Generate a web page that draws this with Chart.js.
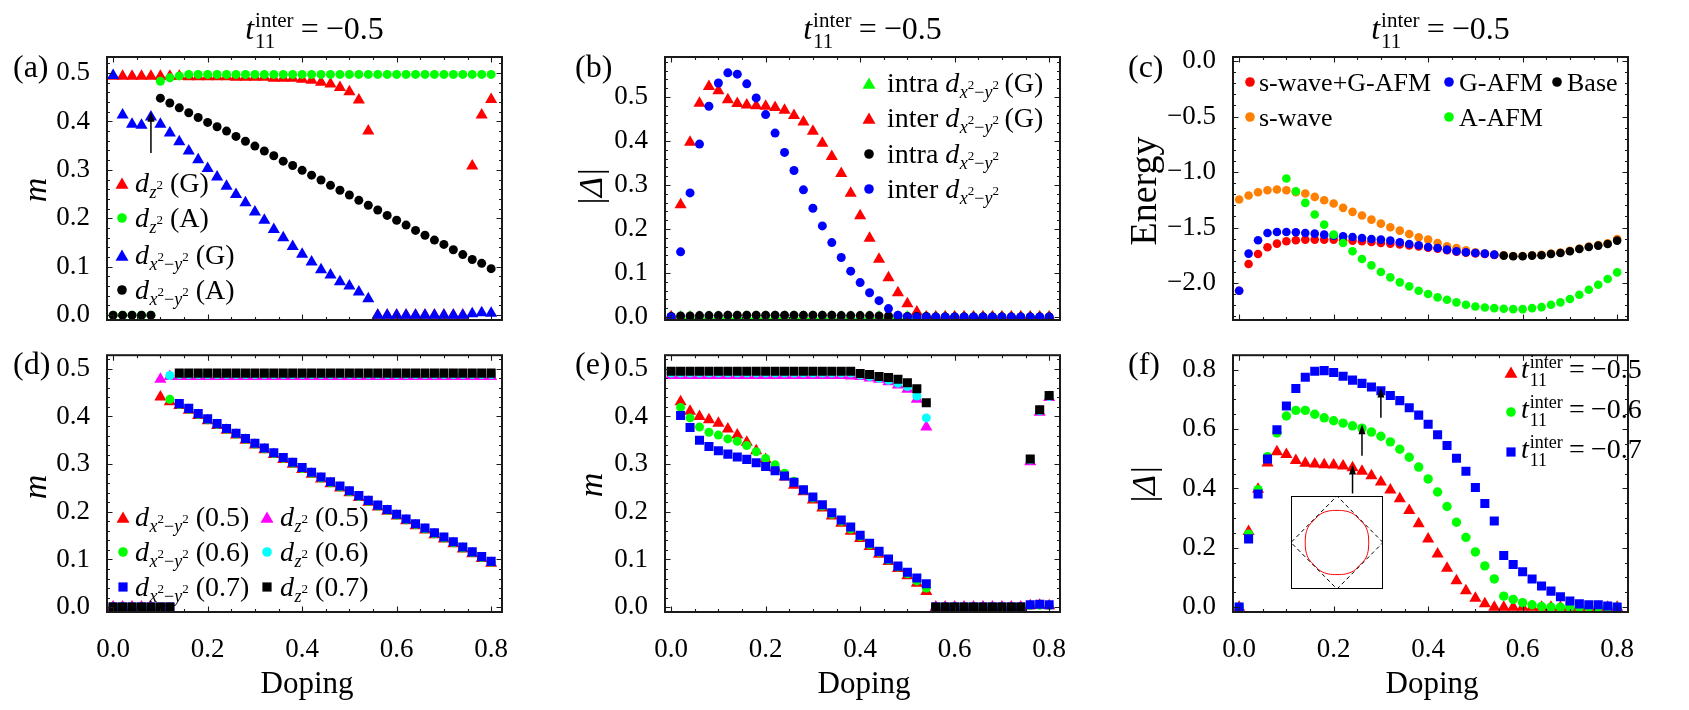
<!DOCTYPE html>
<html>
<head>
<meta charset="utf-8">
<script src="https://cdn.jsdelivr.net/npm/chart.js@4.4.1/dist/chart.umd.min.js"></script>
<style>
html, body { margin: 0; padding: 0; background: #fff; }
#wrap { position: relative; width: 1689px; height: 710px; overflow: hidden; background: #fff; }
canvas { position: absolute; }
</style>
</head>
<body>
<div id="wrap">
  <canvas id="pa"></canvas>
  <canvas id="pb"></canvas>
  <canvas id="pc"></canvas>
  <canvas id="pd"></canvas>
  <canvas id="pe"></canvas>
  <canvas id="pf"></canvas>
  <canvas id="inset"></canvas>
</div>
<script>
// doping axis, shared by every panel
const DOPING = [0, 0.02, 0.04, 0.06, 0.08, 0.1, 0.12, 0.14, 0.16, 0.18, 0.2, 0.22, 0.24, 0.26, 0.28, 0.3, 0.32, 0.34, 0.36, 0.38, 0.4,
  0.42, 0.44, 0.46, 0.48, 0.5, 0.52, 0.54, 0.56, 0.58, 0.6, 0.62, 0.64, 0.66, 0.68, 0.7, 0.72, 0.74, 0.76, 0.78, 0.8];

const X_TICKS = [0, 0.2, 0.4, 0.6, 0.8];
const M_TICKS = [0, 0.1, 0.2, 0.3, 0.4, 0.5];
const E_TICKS = [-2, -1.5, -1, -0.5, 0];
const F_TICKS = [0, 0.2, 0.4, 0.6, 0.8];

// (a) magnetic moments, t = -0.5
const A_DZ2_G = [0.493, 0.493, 0.493, 0.493, 0.493, 0.493, 0.493, 0.493, 0.492, 0.492, 0.492, 0.492, 0.492, 0.491, 0.491, 0.491, 0.491,
  0.489, 0.489, 0.489, 0.487, 0.485, 0.481, 0.477, 0.470, 0.461, 0.444, 0.380, 0, 0, 0, 0, 0, 0, 0, 0, 0, 0, 0.308, 0.413, 0.445];
const A_DZ2_A = [0, 0, 0, 0, 0, 0.483, 0.490, 0.494, 0.497, 0.497, 0.497, 0.497, 0.497, 0.497, 0.497, 0.497, 0.497, 0.497, 0.497, 0.497,
  0.497, 0.497, 0.497, 0.497, 0.497, 0.497, 0.497, 0.497, 0.497, 0.497, 0.497, 0.497, 0.497, 0.497, 0.497, 0.497, 0.497, 0.497, 0.497, 0.497, 0.497];
const A_DX2_G = [0.495, 0.413, 0.394, 0.392, 0.409, 0.394, 0.376, 0.358, 0.339, 0.321, 0.303, 0.285, 0.266, 0.249, 0.232, 0.213, 0.196,
  0.177, 0.160, 0.142, 0.126, 0.110, 0.094, 0.083, 0.069, 0.060, 0.048, 0.034, 0, 0, 0, 0, 0, 0, 0, 0, 0, 0, 0.003, 0.005, 0.004];
const A_DX2_A = [0, 0, 0, 0, 0, 0.448, 0.438, 0.428, 0.418, 0.408, 0.398, 0.389, 0.380, 0.369, 0.359, 0.349, 0.339, 0.329, 0.318, 0.309,
  0.299, 0.289, 0.279, 0.268, 0.258, 0.248, 0.237, 0.227, 0.217, 0.206, 0.196, 0.186, 0.175, 0.165, 0.155, 0.146, 0.135, 0.125, 0.115, 0.107, 0.096];

// (b) pairing amplitudes
const B_INTRA_G = [0, 0, 0, 0, 0, 0, 0, 0, 0, 0, 0, 0, 0, 0, 0, 0, 0, 0, 0, 0, 0, 0, 0, 0, 0, 0, 0, 0, 0, 0, 0, 0, 0, 0, 0, 0, 0, 0, 0, 0, 0];
const B_INTER_G = [0, 0.255, 0.397, 0.486, 0.524, 0.514, 0.494, 0.485, 0.482, 0.480, 0.479, 0.476, 0.470, 0.458, 0.443, 0.422, 0.395,
  0.365, 0.326, 0.281, 0.230, 0.179, 0.131, 0.089, 0.055, 0.030, 0.011, 0, 0, 0, 0, 0, 0, 0, 0, 0, 0, 0, 0, 0, 0];
const B_INTRA = [0.001, 0.002, 0.002, 0.003, 0.003, 0.003, 0.004, 0.004, 0.004, 0.004, 0.004, 0.004, 0.004, 0.004, 0.004, 0.004, 0.004,
  0.004, 0.003, 0.003, 0.003, 0.003, 0.002, 0.002, 0.002, 0.001, 0.001, 0.001, 0, 0, 0, 0, 0, 0, 0, 0, 0, 0, 0, 0, 0];
const B_INTER = [0, 0.148, 0.282, 0.393, 0.479, 0.532, 0.555, 0.552, 0.530, 0.498, 0.460, 0.418, 0.374, 0.333, 0.289, 0.247, 0.207,
  0.169, 0.135, 0.104, 0.078, 0.055, 0.037, 0.019, 0.004, 0, 0, 0, 0, 0, 0, 0, 0, 0, 0, 0, 0, 0, 0, 0, 0];

// (c) energies
const C_SGAFM = [-2.069, -1.829, -1.738, -1.678, -1.645, -1.624, -1.615, -1.609, -1.609, -1.609, -1.609, -1.615, -1.618, -1.624, -1.630,
  -1.639, -1.645, -1.652, -1.662, -1.670, -1.682, -1.690, -1.704, -1.718, -1.727, -1.733, -1.739, -1.748,
  null, null, null, null, null, null, null, null, null, null, null, null, null];
const C_GAFM = [-2.069, -1.735, -1.615, -1.549, -1.540, -1.540, -1.543, -1.549, -1.555, -1.564, -1.573, -1.579, -1.585, -1.594, -1.603,
  -1.609, -1.618, -1.633, -1.648, -1.660, -1.675, -1.684, -1.699, -1.714, -1.723, -1.729, -1.735, -1.744,
  null, null, null, null, null, null, null, null, null, null, null, null, null];
const C_SWAVE = [-1.248, -1.212, -1.182, -1.164, -1.158, -1.164, -1.182, -1.194, -1.224, -1.254, -1.284, -1.323, -1.359, -1.392, -1.429,
  -1.465, -1.498, -1.528, -1.558, -1.588, -1.609, -1.639, -1.669, -1.684, -1.705, -1.723, -1.735, -1.744,
  -1.750, -1.756, -1.756, -1.750, -1.746, -1.734, -1.725, -1.710, -1.689, -1.671, -1.658, -1.643, -1.603];
const C_AAFM = [null, null, null, null, null, -1.059, -1.173, -1.278, -1.383, -1.474, -1.564, -1.639, -1.714, -1.783, -1.841, -1.901,
  -1.949, -1.994, -2.030, -2.069, -2.099, -2.129, -2.150, -2.174, -2.195, -2.211, -2.220, -2.226, -2.232, -2.235, -2.235, -2.226,
  -2.217, -2.195, -2.174, -2.144, -2.105, -2.060, -2.015, -1.964, -1.904];
const C_BASE = [null, null, null, null, null, null, null, null, null, null, null, null, null, null, null, null, null, null, null, null,
  null, null, null, null, null, null, null, null, -1.753, -1.759, -1.759, -1.753, -1.750, -1.738, -1.729, -1.714, -1.693, -1.675,
  -1.663, -1.648, -1.618];

// (d) A-AFM moments for three hoppings
const D_X05 = [0, 0, 0, 0, 0, 0.441, 0.431, 0.423, 0.413, 0.402, 0.391, 0.381, 0.371, 0.361, 0.350, 0.340, 0.330, 0.320, 0.310, 0.300,
  0.289, 0.279, 0.269, 0.259, 0.250, 0.240, 0.230, 0.220, 0.210, 0.201, 0.191, 0.181, 0.171, 0.162, 0.152, 0.143, 0.133, 0.122, 0.112, 0.102, 0.092];
const D_X06 = [0, 0, 0, 0, 0, 0, 0.436, 0.425, 0.415, 0.404, 0.393, 0.383, 0.373, 0.363, 0.352, 0.342, 0.332, 0.322, 0.312, 0.302,
  0.291, 0.281, 0.271, 0.261, 0.252, 0.242, 0.232, 0.222, 0.212, 0.203, 0.193, 0.183, 0.173, 0.164, 0.154, 0.145, 0.135, 0.124, 0.114, 0.104, 0.094];
const D_X07 = [0, 0, 0, 0, 0, 0, 0, 0.427, 0.417, 0.406, 0.395, 0.385, 0.375, 0.365, 0.354, 0.344, 0.334, 0.324, 0.314, 0.304,
  0.293, 0.283, 0.273, 0.263, 0.254, 0.244, 0.234, 0.224, 0.214, 0.205, 0.195, 0.185, 0.175, 0.166, 0.156, 0.147, 0.137, 0.126, 0.116, 0.106, 0.096];
const D_Z05 = [0, 0, 0, 0, 0, 0.478, 0.484, 0.484, 0.484, 0.484, 0.484, 0.484, 0.484, 0.484, 0.484, 0.484, 0.484, 0.484, 0.484, 0.484,
  0.484, 0.484, 0.484, 0.484, 0.484, 0.484, 0.484, 0.484, 0.484, 0.484, 0.484, 0.484, 0.484, 0.484, 0.484, 0.484, 0.484, 0.484, 0.484, 0.484, 0.484];
const D_Z06 = [0, 0, 0, 0, 0, 0, 0.486, 0.488, 0.488, 0.488, 0.488, 0.488, 0.488, 0.488, 0.488, 0.488, 0.488, 0.488, 0.488, 0.488,
  0.488, 0.488, 0.488, 0.488, 0.488, 0.488, 0.488, 0.488, 0.488, 0.488, 0.488, 0.488, 0.488, 0.488, 0.488, 0.488, 0.488, 0.488, 0.488, 0.488, 0.488];
const D_Z07 = [0, 0, 0, 0, 0, 0, 0, 0.491, 0.491, 0.491, 0.491, 0.491, 0.491, 0.491, 0.491, 0.491, 0.491, 0.491, 0.491, 0.491,
  0.491, 0.491, 0.491, 0.491, 0.491, 0.491, 0.491, 0.491, 0.491, 0.491, 0.491, 0.491, 0.491, 0.491, 0.491, 0.491, 0.491, 0.491, 0.491, 0.491, 0.491];

// (e) G-AFM moments for three hoppings
const E_X05 = [null, 0.431, 0.411, 0.400, 0.393, 0.386, 0.374, 0.361, 0.346, 0.328, 0.310, 0.292, 0.273, 0.256, 0.242, 0.225, 0.208,
  0.191, 0.176, 0.159, 0.144, 0.127, 0.111, 0.096, 0.081, 0.066, 0.050, 0.033, 0, 0, 0, 0, 0, 0, 0, 0, 0, 0, 0.003, 0.004, 0.003];
const E_X06 = [null, 0.419, 0.397, 0.378, 0.367, 0.361, 0.353, 0.348, 0.339, 0.326, 0.312, 0.299, 0.281, 0.264, 0.245, 0.229, 0.212,
  0.195, 0.180, 0.164, 0.148, 0.131, 0.115, 0.099, 0.084, 0.070, 0.055, 0.040, 0, 0, 0, 0, 0, 0, 0, 0, 0, 0, 0.004, 0.004, 0.004];
const E_X07 = [null, 0.402, 0.377, 0.350, 0.337, 0.328, 0.321, 0.315, 0.310, 0.303, 0.295, 0.286, 0.275, 0.262, 0.246, 0.231, 0.215,
  0.198, 0.183, 0.168, 0.151, 0.134, 0.117, 0.101, 0.086, 0.073, 0.061, 0.049, 0, 0, 0, 0, 0, 0, 0, 0, 0, 0, 0.005, 0.006, 0.005];
const E_Z05 = [0.486, 0.486, 0.486, 0.486, 0.486, 0.486, 0.486, 0.486, 0.486, 0.486, 0.486, 0.486, 0.486, 0.486, 0.486, 0.486, 0.486,
  0.486, 0.486, 0.485, 0.484, 0.481, 0.478, 0.473, 0.466, 0.457, 0.436, 0.378, 0, 0, 0, 0, 0, 0, 0, 0, 0, 0, 0.305, 0.409, 0.440];
const E_Z06 = [0.491, 0.491, 0.491, 0.491, 0.491, 0.491, 0.491, 0.491, 0.491, 0.491, 0.491, 0.491, 0.491, 0.491, 0.491, 0.491, 0.491,
  0.491, 0.491, 0.491, 0.487, 0.484, 0.480, 0.476, 0.470, 0.463, 0.443, 0.397, 0, 0, 0, 0, 0, 0, 0, 0, 0, 0, 0.309, 0.412, 0.442];
const E_Z07 = [0.495, 0.495, 0.495, 0.495, 0.495, 0.495, 0.495, 0.495, 0.495, 0.495, 0.495, 0.495, 0.495, 0.495, 0.495, 0.495, 0.495,
  0.495, 0.495, 0.495, 0.490, 0.488, 0.484, 0.482, 0.478, 0.471, 0.458, 0.429, 0, 0, 0, 0, 0, 0, 0, 0, 0, 0, 0.311, 0.414, 0.444];

// (f) inter-layer gap for three hoppings
const F_T05 = B_INTER_G;
const F_T06 = [0, 0.246, 0.396, 0.507, 0.587, 0.644, 0.663, 0.663, 0.650, 0.638, 0.628, 0.620, 0.611, 0.603, 0.590, 0.576, 0.557,
  0.532, 0.505, 0.472, 0.432, 0.388, 0.339, 0.286, 0.235, 0.186, 0.139, 0.095, 0.037, 0.026, 0.015, 0.008, 0.002, 0, 0, 0, 0, 0, 0, 0, 0];
const F_T07 = [0, 0.230, 0.381, 0.499, 0.598, 0.678, 0.737, 0.775, 0.795, 0.797, 0.791, 0.778, 0.765, 0.754, 0.742, 0.729, 0.713,
  0.696, 0.672, 0.647, 0.616, 0.581, 0.545, 0.502, 0.458, 0.403, 0.349, 0.290, 0.174, 0.144, 0.119, 0.095, 0.071, 0.054, 0.035,
  0.021, 0.011, 0.008, 0.008, 0.004, 0];

// inset: Fermi surface and zone boundary
const FS_X = [0.69, 0.675, 0.61, 0.49, 0.36, 0.19, 0, -0.19, -0.36, -0.49, -0.61, -0.675, -0.69, -0.675, -0.61, -0.49, -0.36, -0.19, 0,
  0.19, 0.36, 0.49, 0.61, 0.675, 0.69];
const FS_Y = [0, 0.19, 0.36, 0.49, 0.61, 0.675, 0.69, 0.675, 0.61, 0.49, 0.36, 0.19, 0, -0.19, -0.36, -0.49, -0.61, -0.675, -0.69,
  -0.675, -0.61, -0.49, -0.36, -0.19, 0];
const BZ_X = [1, 0, -1, 0, 1];
const BZ_Y = [0, 1, 0, -1, 0];

const RED = '#ff0000', GREEN = '#00ff00', BLUE = '#0000ff', BLACK = '#000000';
const MAGENTA = '#ff00ff', CYAN = '#00ffff', ORANGE = '#ff8000';
const X_MIN = -0.013, X_MAX = 0.823;
const SERIF = '"Liberation Serif", "DejaVu Serif", serif';
const F = (s, it) => (it ? 'italic ' : '') + s + 'px ' + SERIF;
const RADIUS = { triangle: 7, circle: 4.5, rect: 6.4 };

Chart.defaults.font.family = SERIF;
Chart.defaults.color = '#000';

// text pieces
const DZ2 = [{ t: 'd', s: 28, i: 1, gap: 0.5 }, { t: 'z', s: 18, i: 1, dy: 6 }, { t: '2', s: 13, dy: -3 }];
const DX2Y2 = [{ t: 'd', s: 28, i: 1, gap: 0.5 }, { t: 'x', s: 18, i: 1, dy: 6 }, { t: '2', s: 13, dy: -3 },
  { t: '\u2212', s: 18, dy: 6 }, { t: 'y', s: 18, i: 1, dy: 6 }, { t: '2', s: 13, dy: -3 }];
function T11(S, v) {
  const s2 = Math.round(S * 0.66);
  return [{ t: 't', s: S, i: 1, gap: 1 }, { t: 'inter', s: s2, dy: -Math.round(S * 0.37) },
    { t: '11', s: s2, dy: Math.round(S * 0.27), back: 1, gap: S * 0.22 },
    { t: '=', s: S, gap: S * 0.22 }, { t: v, s: S }];
}
const P = (t, s = 28) => ({ t, s });

function drawRich(ctx, x, y, parts, align) {
  let cx = 0, px = 0, pw = 0;
  const items = [];
  for (const p of parts) {
    ctx.font = F(p.s, p.i);
    const w = ctx.measureText(p.t).width;
    if (p.back) {
      items.push({ p, x: px });
      pw = Math.max(pw, w);
      cx = px + pw;
    } else {
      items.push({ p, x: cx });
      px = cx; pw = w; cx += w;
    }
    if (p.gap) cx += p.gap;
  }
  const x0 = align === 'center' ? x - cx / 2 : x;
  ctx.textAlign = 'left';
  ctx.textBaseline = 'alphabetic';
  ctx.fillStyle = '#000';
  for (const it of items) {
    ctx.font = F(it.p.s, it.p.i);
    ctx.fillText(it.p.t, x0 + it.x, y + (it.p.dy || 0));
  }
}

function marker(ctx, style, x, y, color) {
  ctx.fillStyle = color;
  ctx.beginPath();
  if (style === 'triangle') {
    const r = 7.5; y += 2;
    ctx.moveTo(x, y - r); ctx.lineTo(x + r * 0.866, y + r / 2); ctx.lineTo(x - r * 0.866, y + r / 2); ctx.closePath();
  } else if (style === 'rect') {
    ctx.rect(x - 4.6, y - 4.6, 9.2, 9.2);
  } else {
    ctx.arc(x, y, 4.8, 0, Math.PI * 2);
  }
  ctx.fill();
}

const M_TITLE = [{ t: 'm', s: 34, i: 1 }];
const D_TITLE = [{ t: '|\u0394|', s: 34, i: 1 }];

const META = {
  pa: {
    cell: [0, 0, 563, 360], area: [107, 57, 502, 320], y: [-0.01, 0.533], yt: M_TICKS, yMaj: 0.1, yMin: 0.02,
    label: [13, 77, '(a)'], yTitle: [37, 190, M_TITLE], title: true,
    arrows: [[0.08, 0.335, 0.42]],
    legend: [
      ['triangle', RED, 122, 183, 135, [...DZ2, P(' (G)')]],
      ['circle', GREEN, 122, 218, 135, [...DZ2, P(' (A)')]],
      ['triangle', BLUE, 122, 255, 135, [...DX2Y2, P(' (G)')]],
      ['circle', BLACK, 122, 290, 135, [...DX2Y2, P(' (A)')]]
    ],
    sets: [[A_DX2_A, BLACK, 'circle'], [A_DX2_G, BLUE, 'triangle'], [A_DZ2_A, GREEN, 'circle'], [A_DZ2_G, RED, 'triangle']]
  },
  pb: {
    cell: [563, 0, 563, 360], area: [665, 57, 1060, 320], y: [-0.007, 0.591], yt: M_TICKS, yMaj: 0.1, yMin: 0.02,
    label: [575, 77, '(b)'], yTitle: [593, 187, D_TITLE], title: true,
    legend: [
      ['triangle', GREEN, 869, 83, 887, [P('intra '), ...DX2Y2, P('\u2009(G)')]],
      ['triangle', RED, 869, 118, 887, [P('inter '), ...DX2Y2, P('\u2009(G)')]],
      ['circle', BLACK, 869, 154, 887, [P('intra '), ...DX2Y2]],
      ['circle', BLUE, 869, 189, 887, [P('inter '), ...DX2Y2]]
    ],
    sets: [[B_INTER, BLUE, 'circle'], [B_INTRA, BLACK, 'circle'], [B_INTER_G, RED, 'triangle'], [B_INTRA_G, GREEN, 'triangle']]
  },
  pc: {
    cell: [1126, 0, 563, 360], area: [1233, 57, 1628, 320], y: [-2.333, 0.036], yt: E_TICKS, yMaj: 0.5, yMin: 0.1,
    label: [1128, 77, '(c)'], yTitle: [1146, 191, [{ t: 'Energy', s: 38 }]], title: true,
    legend: [
      ['circle', RED, 1250, 82, 1259, [P('s-wave+G-AFM', 26)]],
      ['circle', BLUE, 1449, 82, 1459, [P('G-AFM', 26)]],
      ['circle', BLACK, 1557, 82, 1567, [P('Base', 26)]],
      ['circle', ORANGE, 1250, 117, 1259, [P('s-wave', 26)]],
      ['circle', GREEN, 1449, 117, 1459, [P('A-AFM', 26)]]
    ],
    sets: [[C_BASE, BLACK, 'circle', 4.3], [C_AAFM, GREEN, 'circle', 4.3], [C_GAFM, BLUE, 'circle', 4.3],
      [C_SGAFM, RED, 'circle', 4.3], [C_SWAVE, ORANGE, 'circle', 4.3]]
  },
  pd: {
    cell: [0, 330, 563, 380], area: [107, 348, 502, 612], y: [-0.0102, 0.5286], yt: M_TICKS, yMaj: 0.1, yMin: 0.02,
    label: [13, 374, '(d)'], yTitle: [37, 487, M_TITLE], xLabels: true, xTitle: 307,
    legend: [
      ['triangle', RED, 123, 517, 135, [...DX2Y2, P(' (0.5)')]],
      ['circle', GREEN, 123, 552, 135, [...DX2Y2, P(' (0.6)')]],
      ['rect', BLUE, 123, 587, 135, [...DX2Y2, P(' (0.7)')]],
      ['triangle', MAGENTA, 267, 517, 280, [...DZ2, P(' (0.5)')]],
      ['circle', CYAN, 267, 552, 280, [...DZ2, P(' (0.6)')]],
      ['rect', BLACK, 267, 587, 280, [...DZ2, P(' (0.7)')]]
    ],
    sets: [[D_Z07, BLACK, 'rect'], [D_X07, BLUE, 'rect'], [D_Z06, CYAN, 'circle'], [D_X06, GREEN, 'circle'],
      [D_Z05, MAGENTA, 'triangle'], [D_X05, RED, 'triangle']]
  },
  pe: {
    cell: [563, 330, 563, 380], area: [665, 348, 1060, 612], y: [-0.0102, 0.5286], yt: M_TICKS, yMaj: 0.1, yMin: 0.02,
    label: [575, 374, '(e)'], yTitle: [593, 485, M_TITLE], xLabels: true, xTitle: 864,
    sets: [[E_Z07, BLACK, 'rect'], [E_X07, BLUE, 'rect'], [E_Z06, CYAN, 'circle'], [E_X06, GREEN, 'circle'],
      [E_Z05, MAGENTA, 'triangle'], [E_X05, RED, 'triangle']]
  },
  pf: {
    cell: [1126, 330, 563, 380], area: [1233, 348, 1628, 612], y: [-0.0164, 0.849], yt: F_TICKS, yMaj: 0.2, yMin: 0.05,
    label: [1128, 374, '(f)'], yTitle: [1146, 485, D_TITLE], xLabels: true, xTitle: 1432,
    arrows: [[0.24, 0.383, 0.481], [0.26, 0.51, 0.616], [0.30, 0.638, 0.74]],
    legend: [
      ['triangle', RED, 1511, 372, 1521, T11(28, '\u22120.5'), 6],
      ['circle', GREEN, 1511, 412, 1521, T11(28, '\u22120.6'), 6],
      ['rect', BLUE, 1511, 452, 1521, T11(28, '\u22120.7'), 6]
    ],
    sets: [[F_T07, BLUE, 'rect'], [F_T06, GREEN, 'circle', 4.7], [F_T05, RED, 'triangle']]
  }
};

const fmt = v => (Math.abs(v) < 1e-9 ? '0.0' : v.toFixed(1).replace('-', '\u2212'));

const deco = {
  id: 'deco',
  afterDatasetsDraw(chart) {
    const m = META[chart.canvas.id];
    const ctx = chart.ctx, a = chart.chartArea, sx = chart.scales.x, sy = chart.scales.y;
    ctx.save();
    ctx.strokeStyle = '#1a1a1a';
    ctx.lineWidth = 1.1;
    ctx.beginPath();
    const xt = (step, len) => {
      for (let k = Math.ceil(X_MIN / step - 1e-9); k * step <= X_MAX + 1e-9; k++) {
        const p = Math.round(sx.getPixelForValue(k * step)) + 0.5;
        ctx.moveTo(p, a.bottom); ctx.lineTo(p, a.bottom - len);
        ctx.moveTo(p, a.top); ctx.lineTo(p, a.top + len);
      }
    };
    const yt = (step, len) => {
      for (let k = Math.ceil(m.y[0] / step - 1e-9); k * step <= m.y[1] + 1e-9; k++) {
        const p = Math.round(sy.getPixelForValue(k * step)) + 0.5;
        ctx.moveTo(a.left, p); ctx.lineTo(a.left + len, p);
        ctx.moveTo(a.right, p); ctx.lineTo(a.right - len, p);
      }
    };
    xt(0.05, 3); xt(0.2, 5.5); yt(m.yMin, 3); yt(m.yMaj, 5.5);
    ctx.stroke();
    ctx.lineWidth = 2;
    ctx.strokeRect(a.left, a.top, a.right - a.left, a.bottom - a.top);
    // arrows
    ctx.strokeStyle = '#000'; ctx.fillStyle = '#000'; ctx.lineWidth = 1.5;
    for (const [x, y0, y1] of (m.arrows || [])) {
      const px = sx.getPixelForValue(x), p0 = sy.getPixelForValue(y0), p1 = sy.getPixelForValue(y1);
      ctx.beginPath(); ctx.moveTo(px, p0); ctx.lineTo(px, p1 + 7); ctx.stroke();
      ctx.beginPath(); ctx.moveTo(px, p1); ctx.lineTo(px - 3.5, p1 + 10); ctx.lineTo(px + 3.5, p1 + 10); ctx.closePath(); ctx.fill();
    }
    ctx.restore();
  },
  afterDraw(chart) {
    const m = META[chart.canvas.id];
    const ctx = chart.ctx;
    ctx.save();
    ctx.translate(-m.cell[0], -m.cell[1]);
    if (m.title) drawRich(ctx, (m.area[0] + m.area[2]) / 2 + 10, 38.5, T11(32, '\u22120.5'), 'center');
    drawRich(ctx, m.label[0], m.label[1], [{ t: m.label[2], s: 32 }]);
    ctx.save();
    ctx.translate(m.yTitle[0], m.yTitle[1]);
    ctx.rotate(-Math.PI / 2);
    ctx.font = F(m.yTitle[2][0].s, m.yTitle[2][0].i);
    ctx.textAlign = 'center'; ctx.textBaseline = 'middle'; ctx.fillStyle = '#000';
    ctx.fillText(m.yTitle[2][0].t, 0, 0);
    ctx.restore();
    if (m.xTitle) drawRich(ctx, m.xTitle, 693, [{ t: 'Doping', s: 31 }], 'center');
    for (const [st, col, mx, my, tx, parts, dyb] of (m.legend || [])) {
      marker(ctx, st, mx, my, col);
      drawRich(ctx, tx, my + (dyb || 9), parts);
    }
    ctx.restore();
  }
};

function makePanel(id) {
  const m = META[id];
  const cv = document.getElementById(id);
  cv.width = m.cell[2]; cv.height = m.cell[3];
  cv.style.left = m.cell[0] + 'px'; cv.style.top = m.cell[1] + 'px';
  const L = m.area[0] - m.cell[0], T = m.area[1] - m.cell[1];
  const R = m.area[2] - m.cell[0], B = m.area[3] - m.cell[1];
  const datasets = m.sets.map(([vals, color, style, rad], k) => ({
    data: DOPING.map((x, i) => ({ x, y: vals[i] })).filter(p => p.y !== null),
    pointStyle: style,
    pointRadius: rad || RADIUS[style],
    pointBackgroundColor: color,
    pointBorderWidth: 0,
    showLine: false,
    order: k
  }));
  return new Chart(cv, {
    type: 'scatter',
    data: { datasets },
    options: {
      responsive: false,
      animation: false,
      events: [],
      layout: { padding: { left: 0, top: T, right: m.cell[2] - R, bottom: 0 } },
      scales: {
        x: {
          type: 'linear', min: X_MIN, max: X_MAX,
          grid: { display: false }, border: { display: false },
          afterFit: s => { s.height = m.cell[3] - B; },
          afterBuildTicks: s => { s.ticks = X_TICKS.map(v => ({ value: v })); },
          ticks: { display: !!m.xLabels, padding: 14, autoSkip: false, maxRotation: 0, callback: fmt, font: { size: 27 }, color: '#000' }
        },
        y: {
          type: 'linear', min: m.y[0], max: m.y[1],
          grid: { display: false }, border: { display: false },
          afterFit: s => { s.width = L; },
          afterBuildTicks: s => { s.ticks = m.yt.map(v => ({ value: v })); },
          ticks: { padding: 9, autoSkip: false, callback: fmt, font: { size: 27 }, color: '#000' }
        }
      },
      plugins: { legend: { display: false }, tooltip: { enabled: false } }
    },
    plugins: [deco]
  });
}

['pa', 'pb', 'pc', 'pd', 'pe', 'pf'].forEach(makePanel);

// inset of panel (f)
const icv = document.getElementById('inset');
icv.width = 92; icv.height = 93;
icv.style.left = '1291px'; icv.style.top = '496px';
new Chart(icv, {
  type: 'scatter',
  data: {
    datasets: [
      { data: BZ_X.map((x, i) => ({ x, y: BZ_Y[i] })), showLine: true, borderColor: '#000', borderWidth: 1,
        borderDash: [4, 3], pointRadius: 0, fill: false },
      { data: FS_X.map((x, i) => ({ x, y: FS_Y[i] })), showLine: true, borderColor: '#ff0000', borderWidth: 1,
        tension: 0.4, pointRadius: 0, fill: false }
    ]
  },
  options: {
    responsive: false, animation: false, events: [],
    layout: { padding: 0 },
    scales: { x: { display: false, min: -1, max: 1 }, y: { display: false, min: -1, max: 1 } },
    plugins: { legend: { display: false }, tooltip: { enabled: false } }
  },
  plugins: [{
    id: 'box',
    beforeDraw(c) { c.ctx.save(); c.ctx.fillStyle = '#fff'; c.ctx.fillRect(0, 0, c.width, c.height); c.ctx.restore(); },
    afterDraw(c) { c.ctx.save(); c.ctx.strokeStyle = '#000'; c.ctx.lineWidth = 1; c.ctx.strokeRect(0.5, 0.5, c.width - 1, c.height - 1); c.ctx.restore(); }
  }]
});
</script>
</body>
</html>
